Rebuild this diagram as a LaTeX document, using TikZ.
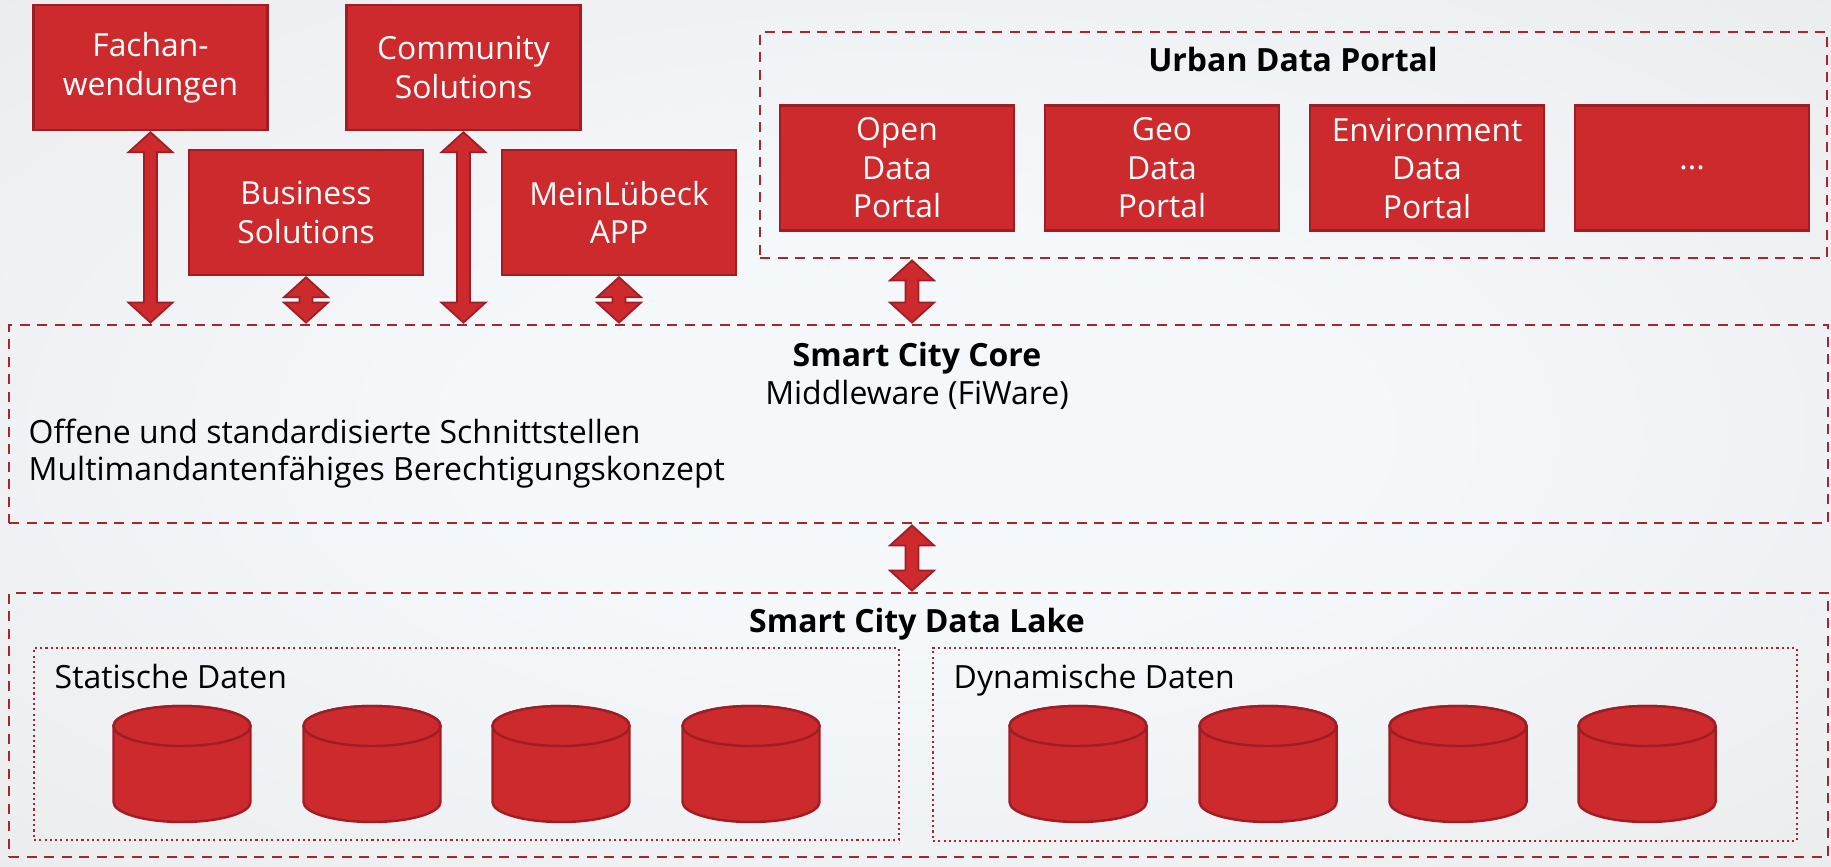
\documentclass[tikz,border=0pt]{standalone}
\usepackage{fontspec}
\setmainfont{Open Sans}
\usetikzlibrary{calc}

\definecolor{boxred}{RGB}{205,42,45}
\definecolor{boxline}{RGB}{160,30,35}
\definecolor{frameline}{RGB}{165,38,43}
\definecolor{bgin}{RGB}{245,248,251}
\definecolor{bgout}{RGB}{228,229,230}

\pgfdeclareradialshading{backdrop}{\pgfpoint{0bp}{0bp}}{color(0bp)=(bgin); color(12bp)=(bgin); color(50bp)=(bgout)}

\tikzset{
  appbox/.style={draw=boxline, fill=boxred, line width=0.7pt, text=white, align=center,
    minimum width=2.34cm, minimum height=1.25cm, inner sep=0pt,
    font=\fontsize{9.05}{10.95}\selectfont},
  dashframe/.style={draw=frameline, line width=0.8pt, dash pattern=on 0.1cm off 0.075cm, inner sep=0pt},
  dotframe/.style={draw=frameline, line width=0.6pt, dash pattern=on 0.6pt off 0.9pt, inner sep=0pt},
  plain/.style={inner sep=0pt, font=\fontsize{9.1}{10.5}\selectfont},
  heading/.style={inner sep=0pt, font=\fontsize{9.1}{10.5}\selectfont\bfseries},
  drum/.style={draw=boxline, fill=boxred, line width=0.7pt},
  fat arrow/.style={draw=boxline, fill=boxred, line width=0.5pt, line join=miter,
    to path={let \p1=(\tikztostart), \p2=(\tikztotarget) in
      (\x1,\y1-0.01cm) -- (\x1+0.22cm,\y1-0.21cm) -- (\x1+0.065cm,\y1-0.21cm)
      -- (\x1+0.065cm,\y2+0.21cm) -- (\x1+0.22cm,\y2+0.21cm) -- (\x1,\y2+0.01cm)
      -- (\x1-0.22cm,\y2+0.21cm) -- (\x1-0.065cm,\y2+0.21cm)
      -- (\x1-0.065cm,\y1-0.21cm) -- (\x1-0.22cm,\y1-0.21cm) -- cycle}}
}

\begin{document}
\begin{tikzpicture}
  % backdrop
  \shade[shading=backdrop] (0,0) rectangle (18.31,-8.66);

  % applications
  \node[appbox] (fach) at (1.505,-0.675) {Fachan-\\wendungen};
  \node[appbox] (comm) at (4.635,-0.675) {Community\\Solutions};
  \node[appbox] (bus) at (3.06,-2.125) {Business\\Solutions};
  \node[appbox] (mein) at (6.19,-2.125) {MeinLübeck\\APP};

  % urban data portal
  \node[dashframe, minimum width=10.67cm, minimum height=2.26cm] (udp) at (12.935,-1.45) {};
  \node[heading, anchor=base] (udptitle) at (12.93,-0.71) {Urban Data Portal};
  \node[appbox] (open) at (8.97,-1.68) {Open\\Data\\Portal};
  \node[appbox] (geo) at (11.62,-1.68) {Geo\\Data\\Portal};
  \node[appbox] (env) at (14.27,-1.68) {Environment\\Data\\Portal};
  \node[appbox] (more) at (16.92,-1.68) {...};

  % core
  \node[dashframe, minimum width=18.19cm, minimum height=1.98cm] (core) at (9.185,-4.24) {};
  \node[heading, anchor=base] (coretitle) at (9.17,-3.66) {Smart City Core};
  \node[plain, anchor=base] (coresub) at (9.17,-4.04) {Middleware (FiWare)};
  \node[plain, anchor=base west] (api) at (0.28,-4.43) {Offene und standardisierte Schnittstellen};
  \node[plain, anchor=base west] (auth) at (0.28,-4.80) {Multimandantenfähiges Berechtigungskonzept};

  % data lake
  \node[dashframe, minimum width=18.19cm, minimum height=2.64cm] (lake) at (9.185,-7.25) {};
  \node[heading, anchor=base] (laketitle) at (9.17,-6.32) {Smart City Data Lake};
  \node[dotframe, minimum width=8.65cm, minimum height=1.92cm] (static) at (4.665,-7.44) {};
  \node[dotframe, minimum width=8.64cm, minimum height=1.93cm] (dynamic) at (13.65,-7.445) {};
  \node[plain, anchor=base west] (statlabel) at (0.54,-6.88) {Statische Daten};
  \node[plain, anchor=base west] (dynlabel) at (9.53,-6.88) {Dynamische Daten};

  \foreach \cx in {1.82,3.72,5.61,7.51,10.78,12.68,14.58,16.47} {
    \draw[drum] (\cx-0.685,-7.26) -- (\cx-0.685,-8.02)
      arc[start angle=180, end angle=360, x radius=0.685, y radius=0.2]
      -- (\cx+0.685,-7.26)
      arc[start angle=0, end angle=180, x radius=0.685, y radius=0.2] -- cycle;
    \draw[drum] (\cx,-7.26) ellipse[x radius=0.685, y radius=0.2];
  }

  % links
  \coordinate (axis) at (9.12,0);
  \draw[fat arrow] (fach.south) to (fach.south |- core.north);
  \draw[fat arrow] (bus.south) to (bus.south |- core.north);
  \draw[fat arrow] (comm.south) to (comm.south |- core.north);
  \draw[fat arrow] (mein.south) to (mein.south |- core.north);
  \draw[fat arrow] (axis |- udp.south) to (axis |- core.north);
  \draw[fat arrow] (axis |- core.south) to (axis |- lake.north);
\end{tikzpicture}
\end{document}
